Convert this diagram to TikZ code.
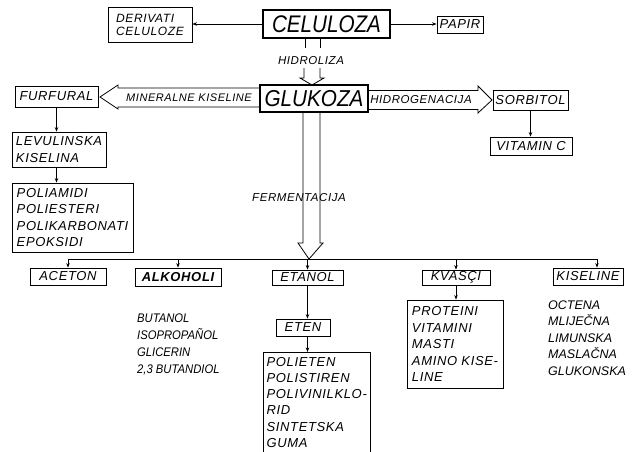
\documentclass[tikz,border=0pt]{standalone}
\usepackage{fontspec}
\usepackage{graphicx}
\setmainfont{Liberation Sans}
\newfontfamily\labf{Liberation Sans}[LetterSpace=5]
\newfontfamily\narf{Liberation Sans}[FakeStretch=0.9]
\usetikzlibrary{arrows.meta,calc}
\begin{document}
\begin{tikzpicture}[x=1pt,y=-1pt,
  arr/.style={-{Stealth[length=4.5pt,width=3.5pt]}, line width=0.7pt},
  hollow/.style={line width=0.8pt, line join=miter},
  box/.style={draw, line width=0.8pt, inner sep=0pt, align=left,
    font=\labf\itshape\fontsize{13}{16.5}\selectfont},
  plain/.style={inner sep=0pt, align=left,
    font=\labf\itshape\fontsize{13}{16.8}\selectfont},
  mid/.style={inner sep=0pt, font=\labf\itshape\fontsize{11.5}{13}\selectfont}]
\useasboundingbox (0,0) rectangle (643,451);
\clip (0,0) rectangle (643,451);
\fill[white] (0,0) rectangle (643,451);

% top row
\node[box, font=\labf\itshape\fontsize{12}{13}\selectfont, minimum width=84, minimum height=35] (deriv) at (150,25) {DERIVATI\\CELULOZE};
\node[draw, line width=2pt, inner sep=0pt, minimum width=127, minimum height=28] (celuloza) at (326.5,24) {\scalebox{0.86}[1]{\fontsize{24}{24}\selectfont\itshape CELULOZA}};
\node[box, minimum width=46, minimum height=17] (papir) at (460,24.5) {PAPIR};
\draw[arr] (celuloza.west) -- (celuloza.west -| deriv.east);
\draw[arr] (celuloza.east) -- (celuloza.east -| papir.west);

% hidroliza
\node[mid] (hidroliza) at (311,61) {HIDROLIZA};
\draw[hollow] (305,38) -- (305,48) (320,38) -- (320,48);
\node[draw, line width=1.2pt, inner sep=0pt, minimum width=108, minimum height=27] (glukoza) at (314,98.5) {\scalebox{0.9}[1]{\fontsize{23}{23}\selectfont\itshape GLUKOZA}};
\draw[hollow] (304,68) -- (304,78) -- (300,78) -- (312,85) -- (324,78) -- (320,78) -- (320,68);

% left branch
\node[box, minimum width=83, minimum height=21] (furfural) at (56.5,96.5) {FURFURAL};
\draw[hollow] (260,88) -- (118,88) -- (118,85) -- (100,97) -- (118,109) -- (118,107) -- (260,107);
\node[mid, font=\labf\itshape\fontsize{11}{12}\selectfont] (mineral) at (189,97.5) {MINERALNE KISELINE};
\node[box, minimum width=94, minimum height=35] (levul) at (59,149.5) {LEVULINSKA\\KISELINA};
\draw[arr] (furfural.south) -- (furfural.south |- levul.north);
\node[box, minimum width=121, minimum height=69] (poli) at (72.5,217.5) {POLIAMIDI\\POLIESTERI\\POLIKARBONATI\\EPOKSIDI};
\draw[arr] (furfural.south |- levul.south) -- (furfural.south |- poli.north);

% right branch
\draw[hollow] (368,90.5) -- (478,90.5) -- (478,86) -- (492,100) -- (478,113) -- (478,109.5) -- (368,109.5);
\node[mid] (hidrogen) at (421,99.5) {HIDROGENACIJA};
\node[box, minimum width=75, minimum height=20] (sorbitol) at (530.5,100) {SORBITOL};
\node[box, minimum width=82, minimum height=18] (vitamin) at (531,146) {VITAMIN C};
\draw[arr] (sorbitol.south) -- (sorbitol.south |- vitamin.north);

% fermentacija
\draw[hollow] (303,112) -- (303,243) -- (298,243) -- (309,259) -- (323,243) -- (320,243) -- (320,112);
\node[mid] (ferm) at (299,197.5) {FERMENTACIJA};

% bus
\coordinate (busL) at (68,259);
\coordinate (busR) at (597,259);
\draw[line width=0.8pt] (busL) -- (busR);

\node[box, minimum width=76, minimum height=17] (aceton) at (68,276.5) {ACETON};
\node[box, font=\labf\bfseries\itshape\fontsize{13}{14}\selectfont, minimum width=86, minimum height=18] (alkoholi) at (178,277) {ALKOHOLI};
\node[box, minimum width=71, minimum height=15] (etanol) at (307.5,277.5) {ETANOL};
\node[box, minimum width=68, minimum height=15] (kvasci) at (456,277.5) {KVASÇI};
\node[box, minimum width=70, minimum height=17] (kiseline) at (588,276.5) {KISELINE};

\draw[arr] (busL) -- (aceton.north);
\draw[arr] (alkoholi.north |- busL) -- (alkoholi.north);
\draw[arr] (etanol.north |- busL) -- (etanol.north);
\draw[arr] (kvasci.north |- busL) -- (kvasci.north);
\draw[arr] (busR) -- (busR |- kiseline.north);

% alkoholi list
\node[plain, font=\narf\itshape\fontsize{12.5}{17}\selectfont, anchor=north west] (alklist) at (137,313.5) {BUTANOL\\ISOPROPAÑOL\\GLICERIN\\2,3 BUTANDIOL};

% etanol chain
\node[box, minimum width=54, minimum height=17] (eten) at (303,327.5) {ETEN};
\draw[arr] (etanol.south) -- (etanol.south |- eten.north);
\node[plain, font=\labf\itshape\fontsize{13}{16.2}\selectfont, minimum width=107, anchor=north west, inner ysep=5pt] (polieten) at (263,352) {POLIETEN\\POLISTIREN\\POLIVINILKLO-\\RID\\SINTETSKA\\GUMA};
\draw[line width=0.8pt] ([yshift=-120pt]polieten.north west) -- (polieten.north west) -- (polieten.north east) -- ([yshift=-120pt]polieten.north east);
\draw[arr] (etanol.south |- eten.south) -- (etanol.south |- polieten.north);

% kvasci
\node[box, minimum width=96, minimum height=88] (proteini) at (455,344) {PROTEINI\\VITAMINI\\MASTI\\AMINO KISE-\\LINE};
\draw[arr] (kvasci.south) -- (kvasci.south |- proteini.north);

% kiseline list
\node[plain, font=\itshape\fontsize{12.5}{16.5}\selectfont, anchor=north west] (kislist) at (548,300.5) {OCTENA\\MLIJEČNA\\LIMUNSKA\\MASLAČNA\\GLUKONSKA};
\end{tikzpicture}
\end{document}
